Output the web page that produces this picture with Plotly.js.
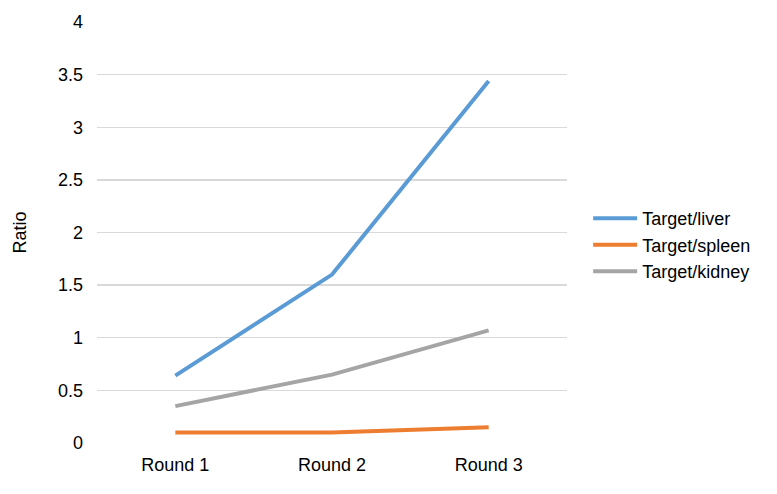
<!DOCTYPE html>
<html>
<head>
<meta charset="utf-8">
<script src="https://cdn.plot.ly/plotly-3.0.1.min.js"></script>
<style>
  html, body { margin: 0; padding: 0; background: #fff; }
  #chart { width: 777px; height: 494px; }
</style>
</head>
<body>
<div id="chart"></div>
<script>
// Data
const rounds = ['Round 1', 'Round 2', 'Round 3'];
const liver = [0.64, 1.6, 3.44];
const spleen = [0.1, 0.1, 0.15];
const kidney = [0.35, 0.65, 1.07];
const yTicks = [0, 0.5, 1, 1.5, 2, 2.5, 3, 3.5, 4];

const font = { family: 'Liberation Sans, Arial, sans-serif', size: 18, color: '#000' };

function series(name, y, color) {
    return {
        x: rounds,
        y: y,
        name: name,
        type: 'scatter',
        mode: 'lines',
        line: { color: color, width: 4 }
    };
}

const data = [
    series('Target/liver', liver, '#5B9BD5'),
    series('Target/spleen', spleen, '#ED7D31'),
    series('Target/kidney', kidney, '#A5A5A5')
];

const layout = {
    width: 777,
    height: 494,
    margin: { l: 97, r: 210, t: 22, b: 51 },
    paper_bgcolor: '#fff',
    plot_bgcolor: '#fff',
    font: font,
    showlegend: true,
    legend: {
        x: 1.045, xanchor: 'left',
        y: 0.47, yanchor: 'middle',
        font: font,
        itemwidth: 44,
        tracegroupgap: 0
    },
    xaxis: {
        type: 'category',
        range: [-0.5, 2.5],
        showgrid: false,
        zeroline: false,
        showline: false,
        ticks: '',
        tickfont: font,
        ticklabelstandoff: 9
    },
    yaxis: {
        range: [0, 4],
        tickvals: yTicks,
        ticktext: yTicks.map(String),
        showgrid: true,
        gridcolor: '#D9D9D9',
        gridwidth: 1.3,
        zeroline: false,
        showline: false,
        ticks: '',
        tickfont: font,
        ticklabelstandoff: 13,
        title: { text: 'Ratio', font: font, standoff: 26 }
    }
};

Plotly.newPlot('chart', data, layout, { staticPlot: true });
</script>
</body>
</html>
